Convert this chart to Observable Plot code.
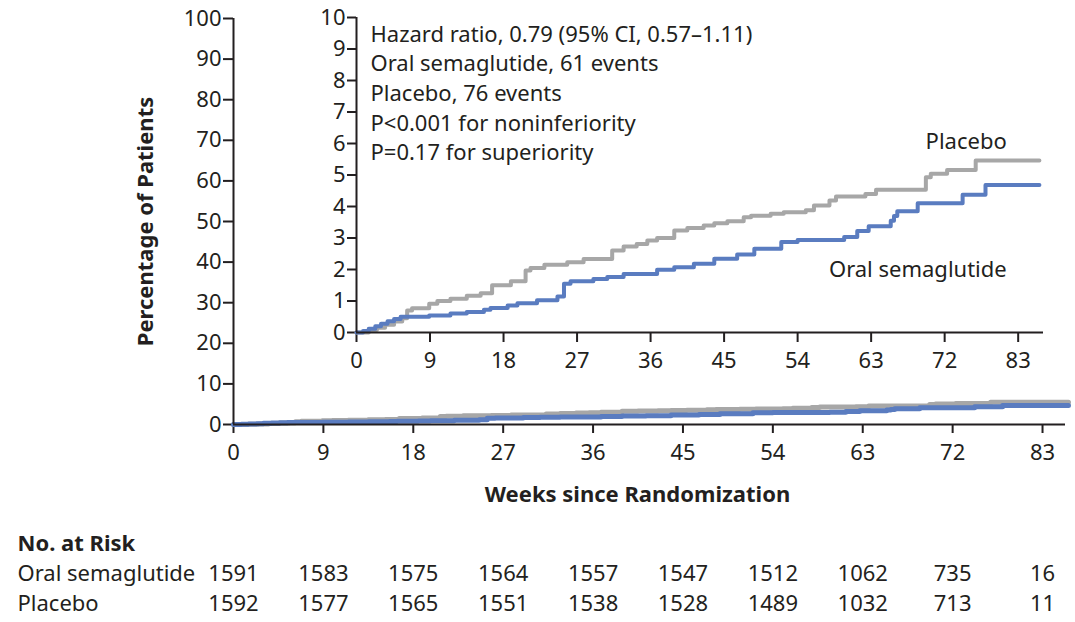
<!DOCTYPE html>
<html><head><meta charset="utf-8">
<script src="https://cdn.jsdelivr.net/npm/d3@7"></script>
<script src="https://cdn.jsdelivr.net/npm/@observablehq/plot@0.6"></script>
<style>
body{margin:0;background:#fff;}
#wrap{position:relative;width:1075px;height:622px;font-family:"Noto Sans",sans-serif;color:#231f20;}
#wrap svg{position:absolute;left:0;}
</style></head><body><div id="wrap"></div>
<script>
// ---- data ----
const xTicks = [0, 9, 18, 27, 36, 45, 54, 63, 72, 81];
const xTickLabels = ["0", "9", "18", "27", "36", "45", "54", "63", "72", "83"];
const mainYTicks = [0, 10, 20, 30, 40, 50, 60, 70, 80, 90, 100];
const insetYTicks = [0, 1, 2, 3, 4, 5, 6, 7, 8, 9, 10];

const semaWeeks = [0, 0.8, 1.5, 2.3, 3, 3.8, 4.6, 5.4, 8.9, 11.5, 13.5, 15.6, 16.4, 18.5, 19.7, 22.1, 24.6, 25.4, 26.2, 29, 30.7, 32.7, 36.8, 38.9, 41.3, 43.8, 46.6, 48.7, 52, 54, 59.7, 61.3, 62.7, 65.4, 65.8, 66.2, 68.7, 74.2, 77, 83.6];
const semaPct = [0, 0.05, 0.12, 0.2, 0.28, 0.36, 0.43, 0.5, 0.54, 0.6, 0.65, 0.72, 0.78, 0.86, 0.93, 1.02, 1.14, 1.55, 1.63, 1.7, 1.76, 1.86, 1.99, 2.07, 2.18, 2.34, 2.48, 2.66, 2.87, 2.94, 3.03, 3.22, 3.37, 3.55, 3.7, 3.85, 4.1, 4.37, 4.68, 4.68];

const placeboWeeks = [0, 1.5, 2.5, 3.5, 4.6, 5.6, 6.2, 6.8, 8.9, 9.9, 11.5, 13.5, 15.2, 16.6, 18.9, 20.7, 21.3, 23, 25.8, 27.8, 31.3, 32.7, 34.3, 35.6, 36.8, 38.9, 40.5, 42.5, 43.8, 45.4, 47.4, 48.3, 50.7, 52.3, 55, 56, 57.9, 58.7, 62.3, 63.6, 69.7, 70.3, 72.3, 75.8, 83.6];
const placeboPct = [0, 0.08, 0.15, 0.25, 0.35, 0.45, 0.7, 0.77, 0.91, 1.0, 1.07, 1.17, 1.25, 1.5, 1.63, 1.97, 2.05, 2.15, 2.23, 2.33, 2.6, 2.73, 2.81, 2.92, 3.0, 3.24, 3.32, 3.4, 3.47, 3.53, 3.66, 3.71, 3.77, 3.82, 3.88, 4.03, 4.19, 4.32, 4.4, 4.53, 4.93, 5.04, 5.16, 5.46, 5.46];

const groups = ["Oral semaglutide", "Placebo"];
const riskSema = [1591, 1583, 1575, 1564, 1557, 1547, 1512, 1062, 735, 16];
const riskPlacebo = [1592, 1577, 1565, 1551, 1538, 1528, 1489, 1032, 713, 11];

const annotation = [
  "Hazard ratio, 0.79 (95% CI, 0.57\u20131.11)",
  "Oral semaglutide, 61 events",
  "Placebo, 76 events",
  "P<0.001 for noninferiority",
  "P=0.17 for superiority"
];

// ---- styles ----
const ink = "#231f20";
const blue = "#5a7cc0";
const gray = "#a7a7a7";
const font = "'Noto Sans', sans-serif";
const fs = 22;

const sema = semaWeeks.map((w, i) => ({week: w, pct: semaPct[i]}));
const placebo = placeboWeeks.map((w, i) => ({week: w, pct: placeboPct[i]}));
const fmtX = d => xTickLabels[xTicks.indexOf(d)];
const wrap = document.getElementById("wrap");

// ---- main chart ----
const main = Plot.plot({
  width: 1075, height: 510,
  marginLeft: 233, marginRight: 10, marginTop: 18, marginBottom: 86,
  style: {fontFamily: font, fontSize: fs + "px", color: ink, background: "transparent"},
  x: {domain: [0, 83.3]},
  y: {domain: [0, 100]},
  marks: [
    Plot.axisY({ticks: mainYTicks, tickSize: 10, tickPadding: 2, strokeWidth: 2, fontSize: fs, label: null}),
    Plot.axisX({ticks: xTicks, tickFormat: fmtX, tickSize: 9, tickPadding: 11, strokeWidth: 2, fontSize: fs, label: null}),
    Plot.line(placebo, {x: "week", y: "pct", curve: "step-after", stroke: gray, strokeWidth: 5}),
    Plot.line(sema, {x: "week", y: "pct", curve: "step-after", stroke: blue, strokeWidth: 5}),
    Plot.ruleX([0], {stroke: ink, strokeWidth: 2}),
    Plot.ruleY([0], {stroke: ink, strokeWidth: 2}),
    Plot.text(["Percentage of Patients"], {frameAnchor: "left", dx: -88, rotate: -90, textAnchor: "middle", fontWeight: "bold", fontSize: fs, fill: ink}),
    Plot.text(["Weeks since Randomization"], {frameAnchor: "bottom", dx: -12, dy: 77, fontWeight: "bold", fontSize: fs, fill: ink})
  ]
});
main.style.top = "0px";
wrap.appendChild(main);

// ---- inset ----
const inset = Plot.plot({
  width: 1075, height: 380,
  marginLeft: 356, marginRight: 32, marginTop: 17, marginBottom: 48,
  style: {fontFamily: font, fontSize: fs + "px", color: ink, background: "transparent"},
  x: {domain: [0, 84.1]},
  y: {domain: [0, 10]},
  marks: [
    Plot.axisY({ticks: insetYTicks, tickSize: 9, tickPadding: 2, strokeWidth: 2, fontSize: fs, label: null}),
    Plot.axisX({ticks: xTicks, tickFormat: fmtX, tickSize: 10, tickPadding: 10, strokeWidth: 2, fontSize: fs, label: null}),
    Plot.line(placebo, {x: "week", y: "pct", curve: "step-after", stroke: gray, strokeWidth: 4}),
    Plot.line(sema, {x: "week", y: "pct", curve: "step-after", stroke: blue, strokeWidth: 4}),
    Plot.ruleX([0], {stroke: ink, strokeWidth: 2}),
    Plot.ruleY([0], {stroke: ink, strokeWidth: 2}),
    Plot.text([annotation.join("\n")], {frameAnchor: "top-left", dx: 14, dy: 3, lineHeight: 1.35, fontSize: fs, fill: ink, textAnchor: "start"}),
    Plot.text([{x: 79.6, y: 6.06, t: "Placebo"}], {x: "x", y: "y", text: "t", textAnchor: "end", fontSize: fs, fill: ink}),
    Plot.text([{x: 79.6, y: 2.0, t: "Oral semaglutide"}], {x: "x", y: "y", text: "t", textAnchor: "end", fontSize: fs, fill: ink})
  ]
});
inset.style.top = "0px";
wrap.appendChild(inset);

// ---- number at risk ----
const rows = ["No. at Risk", ...groups];
const risk = groups.flatMap((g, gi) => [riskSema, riskPlacebo][gi].map((n, i) => ({group: g, week: xTicks[i], n})));
const table = Plot.plot({
  width: 1075, height: 102,
  marginLeft: 233, marginRight: 10, marginTop: 0, marginBottom: 0,
  style: {fontFamily: font, fontSize: fs + "px", color: ink, background: "transparent"},
  x: {domain: [0, 83.3], axis: null},
  y: {type: "point", domain: rows, range: [23, 83], padding: 0, axis: null},
  marks: [
    Plot.text([rows[0]], {y: d => d, text: d => d, frameAnchor: "left", dx: -216, textAnchor: "start", fontSize: fs, fontWeight: "bold", fill: ink}),
    Plot.text(groups, {y: d => d, text: d => d, frameAnchor: "left", dx: -216, textAnchor: "start", fontSize: fs, fill: ink}),
    Plot.text(risk, {x: "week", y: "group", text: d => String(d.n), fontSize: fs, fill: ink})
  ]
});
table.style.top = "520px";
wrap.appendChild(table);
</script></body></html>
